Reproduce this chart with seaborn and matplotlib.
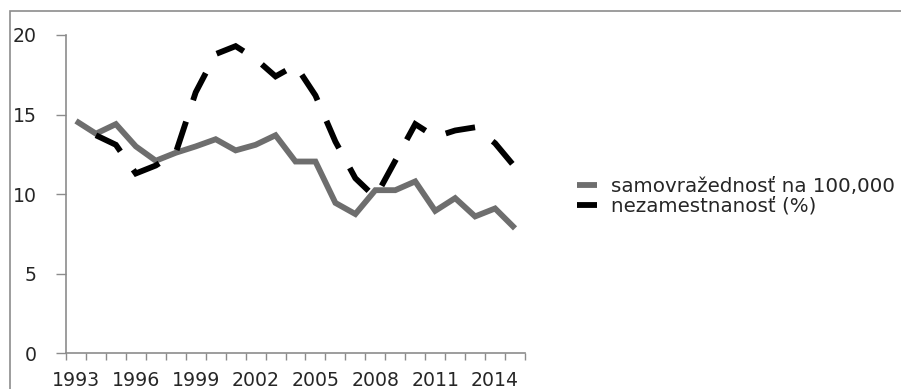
import matplotlib
matplotlib.use("Agg")
import matplotlib.pyplot as plt
import matplotlib.patches as mpatches
import numpy as np
import pandas as pd
import seaborn as sns

# Data
years = list(range(1993, 2016))
suicide_rate = [14.6, 13.8, 14.4, 13.0, 12.1, 12.6, 13.0, 13.45, 12.75, 13.1, 13.7, 12.05,
                12.05, 9.45, 8.75, 10.25, 10.25, 10.8, 8.95, 9.75, 8.6, 9.1, 7.85]
unemployment = [np.nan, 13.7, 13.1, 11.3, 11.8, 12.6, 16.4, 18.8, 19.3, 18.5, 17.4, 18.1,
                16.2, 13.3, 11.0, 9.8, 12.1, 14.4, 13.6, 14.0, 14.2, 13.2, 11.7]
label_suicide = "samovražednosť na 100,000"
label_unemp = "nezamestnanosť (%)"
yticks = [0, 5, 10, 15, 20]
xtick_years = list(range(1993, 2016, 3))

df = pd.DataFrame({"rok": years, "samovrazednost": suicide_rate, "nezamestnanost": unemployment})

sns.set_theme(style="white")
plt.rcParams["font.family"] = ["DejaVu Sans"]
plt.rcParams["lines.scale_dashes"] = False
text_color = "#262626"
axis_color = "#8c8c8c"

fig = plt.figure(figsize=(9.01, 3.89), dpi=100)
ax = fig.add_axes([66 / 901, 1 - 353.3 / 389, (525 - 66) / 901, (353.3 - 35) / 389])

# Outer chart-area frame
frame = mpatches.Rectangle((10 / 901, -0.5), 2.0, 0.5 + (1 - 11 / 389),
                           transform=fig.transFigure, fill=False,
                           edgecolor=axis_color, linewidth=1.2, zorder=0)
fig.patches.append(frame)

sns.lineplot(data=df, x="rok", y="samovrazednost", ax=ax, color="#6e6e6e",
             linewidth=4.2, label=label_suicide, solid_capstyle="butt",
             solid_joinstyle="miter")
sns.lineplot(data=df, x="rok", y="nezamestnanost", ax=ax, color="black",
             linewidth=4.2, label=label_unemp)

# Long dashes (lengths in points)
dash_line = ax.lines[-1]
dash_line.set_linestyle((0, (21.6, 16.2)))
dash_line.set_dash_capstyle("butt")
dash_line.set_dash_joinstyle("miter")

ax.set_xlim(1992.5, 2015.5)
ax.set_ylim(0, 20)
ax.set_xlabel("")
ax.set_ylabel("")

# Category-style x axis: marks between years, labels at every third year
ax.set_xticks(np.arange(1992.5, 2016, 1.0))
ax.set_xticklabels([])
ax.set_xticks(xtick_years, minor=True)
ax.set_xticklabels([str(y) for y in xtick_years], minor=True)
ax.tick_params(axis="x", which="major", direction="out", length=5, width=1,
               color=axis_color, bottom=True)
ax.tick_params(axis="x", which="minor", length=0, pad=12.5, labelsize=13.6,
               labelcolor=text_color, bottom=True)

ax.set_yticks(yticks)
ax.set_yticklabels([str(v) for v in yticks])
ax.tick_params(axis="y", direction="out", length=7, width=1, color=axis_color,
               pad=14, labelsize=13.6, labelcolor=text_color, left=True)

for side in ["top", "right"]:
    ax.spines[side].set_visible(False)
for side in ["left", "bottom"]:
    ax.spines[side].set_color(axis_color)
    ax.spines[side].set_linewidth(1.2)
ax.grid(False)
ax.set_facecolor("none")

handles, labels = ax.get_legend_handles_labels()
leg = ax.legend(handles, labels, loc="center left",
                bbox_to_anchor=(577 / 901, 1 - 196 / 389),
                bbox_transform=fig.transFigure, frameon=False,
                fontsize=14.3, handlelength=1.0, handletextpad=0.7,
                labelspacing=0.05, borderpad=0, borderaxespad=0)
for t in leg.get_texts():
    t.set_color(text_color)

fig.savefig("out.png", dpi=100)
